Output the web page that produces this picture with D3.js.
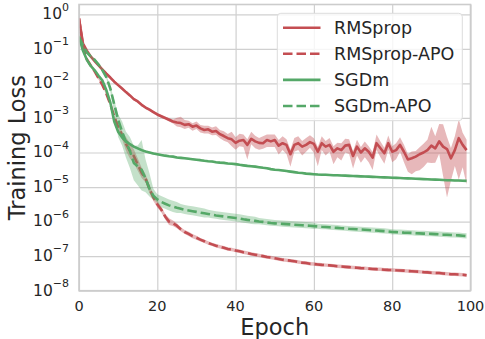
<!DOCTYPE html>
<html>
<head>
<meta charset="utf-8">
<script src="https://cdn.jsdelivr.net/npm/d3@7/dist/d3.min.js"></script>
<style>
  html, body { margin: 0; padding: 0; background: #ffffff; }
  svg { display: block; font-family: "DejaVu Sans", sans-serif; }
</style>
</head>
<body>
<svg id="chart" width="485" height="339"></svg>
<script>
// ---------------- data ----------------
const epochs = d3.range(0, 100);
const seriesNames = ["RMSprop", "RMSprop-APO", "SGDm", "SGDm-APO"];
const xTicks = [0, 20, 40, 60, 80, 100];
const yTickExponents = [0, -1, -2, -3, -4, -5, -6, -7, -8];

const rmsprop = [0.76, 0.145, 0.089, 0.060, 0.044, 0.033, 0.025, 0.019, 0.0148, 0.0112,
  0.0089, 0.0071, 0.0056, 0.0045, 0.0035, 0.0030, 0.0024, 0.0020, 0.00174, 0.00148,
  0.00126, 0.00112, 1.0e-3, 8.9e-4, 7.9e-4, 7.4e-4, 7.1e-4, 6.3e-4, 6.6e-4, 5.6e-4,
  6.0e-4, 5.0e-4, 4.5e-4, 4.7e-4, 4.0e-4, 4.2e-4, 3.4e-4, 3.0e-4, 2.6e-4, 2.4e-4,
  1.9e-4, 2.2e-4, 2.3e-4, 1.66e-4, 2.5e-4, 2.1e-4, 1.9e-4, 1.86e-4, 2.3e-4, 2.1e-4,
  2.3e-4, 1.58e-4, 1.86e-4, 1.66e-4, 8.9e-5, 1.66e-4, 1.86e-4, 1.48e-4, 1.66e-4, 2.0e-4,
  1.78e-4, 1.05e-4, 1.86e-4, 1.48e-4, 1.66e-4, 1.05e-4, 1.32e-4, 1.17e-4, 1.58e-4, 1.66e-4,
  7.9e-5, 1.48e-4, 1.0e-4, 1.32e-4, 1.05e-4, 7.1e-5, 1.86e-4, 1.32e-4, 9.5e-5, 1.86e-4,
  1.05e-4, 1.17e-4, 1.66e-4, 1.05e-4, 6.3e-5, 6.8e-5, 7.6e-5, 8.9e-5, 1.0e-4, 1.17e-4,
  1.58e-4, 1.32e-4, 2.1e-4, 1.48e-4, 1.26e-4, 6.8e-5, 1.17e-4, 2.6e-4, 1.66e-4, 1.17e-4];

const rmspropApo = [0.76, 0.126, 0.050, 0.033, 0.0224, 0.0141, 0.0089, 0.0050, 0.0025, 1.12e-3,
  5.6e-4, 3.2e-4, 1.78e-4, 1.12e-4, 7.9e-5, 4.5e-5, 2.6e-5, 1.78e-5, 8.9e-6, 5.0e-6,
  3.2e-6, 2.24e-6, 1.41e-6, 1.0e-6, 8.9e-7, 7.6e-7, 6.0e-7, 5.0e-7, 4.4e-7, 3.8e-7,
  3.4e-7, 3.0e-7, 2.7e-7, 2.4e-7, 2.19e-7, 2.0e-7, 1.86e-7, 1.74e-7, 1.62e-7, 1.55e-7,
  1.45e-7, 1.38e-7, 1.29e-7, 1.23e-7, 1.15e-7, 1.10e-7, 1.05e-7, 1.0e-7, 9.5e-8, 9.1e-8,
  8.7e-8, 8.3e-8, 7.9e-8, 7.6e-8, 7.4e-8, 7.1e-8, 6.8e-8, 6.5e-8, 6.3e-8, 6.0e-8,
  5.9e-8, 5.75e-8, 5.6e-8, 5.5e-8, 5.4e-8, 5.25e-8, 5.1e-8, 5.0e-8, 4.9e-8, 4.8e-8,
  4.7e-8, 4.6e-8, 4.5e-8, 4.45e-8, 4.35e-8, 4.25e-8, 4.2e-8, 4.15e-8, 4.05e-8, 4.0e-8,
  3.98e-8, 3.9e-8, 3.85e-8, 3.8e-8, 3.7e-8, 3.65e-8, 3.6e-8, 3.55e-8, 3.45e-8, 3.4e-8,
  3.3e-8, 3.27e-8, 3.24e-8, 3.16e-8, 3.1e-8, 3.0e-8, 2.98e-8, 2.95e-8, 2.9e-8, 2.8e-8];

const sgdm = [0.224, 0.089, 0.048, 0.032, 0.024, 0.0166, 0.012, 0.0063, 0.0028, 7.9e-4,
  4.0e-4, 2.75e-4, 2.1e-4, 1.74e-4, 1.48e-4, 1.32e-4, 1.17e-4, 1.07e-4, 1.0e-4, 9.3e-5,
  8.9e-5, 8.5e-5, 8.1e-5, 7.8e-5, 7.6e-5, 7.2e-5, 7.0e-5, 6.8e-5, 6.6e-5, 6.4e-5,
  6.2e-5, 6.0e-5, 5.75e-5, 5.6e-5, 5.5e-5, 5.25e-5, 5.1e-5, 5.0e-5, 4.8e-5, 4.7e-5,
  4.6e-5, 4.4e-5, 4.25e-5, 4.1e-5, 4.0e-5, 3.9e-5, 3.75e-5, 3.6e-5, 3.5e-5, 3.3e-5,
  3.16e-5, 3.1e-5, 3.0e-5, 2.9e-5, 2.8e-5, 2.7e-5, 2.6e-5, 2.55e-5, 2.45e-5, 2.4e-5,
  2.35e-5, 2.3e-5, 2.28e-5, 2.26e-5, 2.24e-5, 2.2e-5, 2.19e-5, 2.16e-5, 2.14e-5, 2.11e-5,
  2.09e-5, 2.07e-5, 2.04e-5, 2.02e-5, 2.0e-5, 1.97e-5, 1.95e-5, 1.93e-5, 1.91e-5, 1.88e-5,
  1.86e-5, 1.84e-5, 1.82e-5, 1.80e-5, 1.78e-5, 1.76e-5, 1.74e-5, 1.72e-5, 1.70e-5, 1.68e-5,
  1.66e-5, 1.64e-5, 1.62e-5, 1.60e-5, 1.58e-5, 1.57e-5, 1.55e-5, 1.54e-5, 1.52e-5, 1.51e-5];

const sgdmApo = [0.224, 0.126, 0.079, 0.060, 0.048, 0.035, 0.024, 0.015, 0.0071, 0.0025,
  8.9e-4, 4.0e-4, 2.0e-4, 1.12e-4, 5.0e-5, 4.0e-5, 3.16e-5, 1.78e-5, 8.9e-6, 5.6e-6,
  4.4e-6, 3.7e-6, 3.3e-6, 2.95e-6, 2.7e-6, 2.5e-6, 2.34e-6, 2.19e-6, 2.09e-6, 2.0e-6,
  1.91e-6, 1.82e-6, 1.74e-6, 1.66e-6, 1.58e-6, 1.51e-6, 1.46e-6, 1.41e-6, 1.36e-6, 1.32e-6,
  1.27e-6, 1.23e-6, 1.17e-6, 1.12e-6, 1.08e-6, 1.05e-6, 1.01e-6, 9.8e-7, 9.4e-7, 9.1e-7,
  8.9e-7, 8.75e-7, 8.6e-7, 8.45e-7, 8.3e-7, 8.1e-7, 8.0e-7, 7.85e-7, 7.7e-7, 7.55e-7,
  7.4e-7, 7.25e-7, 7.1e-7, 7.0e-7, 6.85e-7, 6.7e-7, 6.6e-7, 6.45e-7, 6.35e-7, 6.2e-7,
  6.1e-7, 6.0e-7, 5.9e-7, 5.8e-7, 5.7e-7, 5.6e-7, 5.5e-7, 5.4e-7, 5.3e-7, 5.2e-7,
  5.0e-7, 4.95e-7, 4.9e-7, 4.8e-7, 4.75e-7, 4.7e-7, 4.6e-7, 4.55e-7, 4.5e-7, 4.45e-7,
  4.4e-7, 4.35e-7, 4.3e-7, 4.2e-7, 4.15e-7, 4.1e-7, 4.05e-7, 4.0e-7, 3.9e-7, 3.8e-7];

// shaded band extents, in decades above / below each mean
const rmspropUp = [0.04, 0.04, 0.04, 0.04, 0.04, 0.04, 0.04, 0.04, 0.04, 0.04,
  0.04, 0.04, 0.04, 0.04, 0.04, 0.04, 0.04, 0.04, 0.04, 0.04,
  0.04, 0.04, 0.04, 0.05, 0.06, 0.14, 0.18, 0.14, 0.1, 0.1,
  0.12, 0.1, 0.12, 0.1, 0.12, 0.14, 0.12, 0.14, 0.12, 0.22,
  0.16, 0.2, 0.16, 0.16, 0.2, 0.16, 0.14, 0.2, 0.16, 0.2,
  0.16, 0.16, 0.2, 0.16, 0.14, 0.2, 0.2, 0.16, 0.2, 0.2,
  0.16, 0.14, 0.2, 0.16, 0.2, 0.16, 0.16, 0.2, 0.2, 0.16,
  0.14, 0.2, 0.16, 0.2, 0.16, 0.16, 0.25, 0.2, 0.16, 0.22,
  0.16, 0.2, 0.22, 0.2, 0.16, 0.2, 0.16, 0.2, 0.25, 0.3,
  0.55, 0.35, 0.5, 0.65, 0.35, 0.3, 0.4, 0.55, 0.35, 0.3];
const rmspropDown = [0.04, 0.04, 0.04, 0.04, 0.04, 0.04, 0.04, 0.04, 0.04, 0.04,
  0.04, 0.04, 0.04, 0.04, 0.04, 0.04, 0.04, 0.04, 0.04, 0.04,
  0.04, 0.04, 0.04, 0.05, 0.06, 0.12, 0.12, 0.12, 0.1, 0.12,
  0.1, 0.12, 0.1, 0.12, 0.1, 0.12, 0.12, 0.14, 0.12, 0.2,
  0.2, 0.16, 0.2, 0.42, 0.16, 0.2, 0.2, 0.16, 0.2, 0.16,
  0.2, 0.26, 0.2, 0.26, 0.36, 0.2, 0.2, 0.26, 0.2, 0.16,
  0.26, 0.42, 0.2, 0.26, 0.2, 0.36, 0.26, 0.3, 0.2, 0.26,
  0.36, 0.26, 0.3, 0.26, 0.3, 0.36, 0.2, 0.26, 0.3, 0.2,
  0.3, 0.26, 0.2, 0.3, 0.36, 0.46, 0.42, 0.46, 0.42, 0.36,
  0.5, 0.42, 0.36, 0.85, 1.4, 0.65, 0.46, 1.2, 0.65, 1.0];
const rmspropApoSpread = [0.04, 0.04, 0.04, 0.04, 0.04, 0.04, 0.04, 0.04, 0.04, 0.04,
  0.04, 0.12, 0.2, 0.22, 0.2, 0.18, 0.15, 0.12, 0.12, 0.1,
  0.1, 0.08, 0.08, 0.1, 0.08, 0.07, 0.06, 0.06, 0.06, 0.06,
  0.06, 0.05, 0.05, 0.05, 0.05, 0.05, 0.05, 0.05, 0.05, 0.05,
  0.05, 0.05, 0.05, 0.05, 0.05, 0.05, 0.05, 0.05, 0.05, 0.05,
  0.05, 0.05, 0.05, 0.05, 0.05, 0.05, 0.05, 0.05, 0.05, 0.05,
  0.05, 0.05, 0.05, 0.05, 0.05, 0.05, 0.05, 0.05, 0.05, 0.05,
  0.05, 0.05, 0.05, 0.05, 0.05, 0.05, 0.05, 0.05, 0.05, 0.05,
  0.05, 0.05, 0.05, 0.05, 0.05, 0.05, 0.05, 0.05, 0.05, 0.05,
  0.05, 0.05, 0.05, 0.05, 0.05, 0.05, 0.05, 0.05, 0.05, 0.05];
const sgdmSpread = [0.03, 0.03, 0.03, 0.03, 0.03, 0.03, 0.03, 0.06, 0.06, 0.06,
  0.06, 0.06, 0.06, 0.03, 0.03, 0.03, 0.03, 0.03, 0.03, 0.03,
  0.03, 0.03, 0.03, 0.03, 0.03, 0.03, 0.03, 0.03, 0.03, 0.03,
  0.03, 0.03, 0.03, 0.03, 0.03, 0.03, 0.03, 0.03, 0.03, 0.03,
  0.03, 0.03, 0.03, 0.03, 0.03, 0.03, 0.03, 0.03, 0.03, 0.03,
  0.03, 0.03, 0.03, 0.03, 0.03, 0.03, 0.03, 0.03, 0.03, 0.03,
  0.03, 0.03, 0.03, 0.03, 0.03, 0.03, 0.03, 0.03, 0.03, 0.03,
  0.03, 0.03, 0.03, 0.03, 0.03, 0.03, 0.03, 0.03, 0.03, 0.03,
  0.03, 0.03, 0.03, 0.03, 0.03, 0.03, 0.03, 0.03, 0.03, 0.03,
  0.03, 0.03, 0.03, 0.03, 0.03, 0.03, 0.03, 0.03, 0.03, 0.03];
const sgdmApoUp = [0.05, 0.05, 0.05, 0.05, 0.05, 0.05, 0.05, 0.05, 0.08, 0.12,
  0.15, 0.3, 0.3, 0.4, 0.5, 0.6, 0.86, 0.55, 0.45, 0.2,
  0.15, 0.17, 0.17, 0.17, 0.17, 0.17, 0.14, 0.14, 0.14, 0.14,
  0.14, 0.14, 0.14, 0.12, 0.12, 0.12, 0.12, 0.12, 0.12, 0.12,
  0.12, 0.12, 0.12, 0.12, 0.12, 0.12, 0.1, 0.1, 0.1, 0.1,
  0.1, 0.1, 0.1, 0.1, 0.1, 0.1, 0.1, 0.1, 0.1, 0.1,
  0.1, 0.08, 0.08, 0.08, 0.08, 0.08, 0.08, 0.08, 0.08, 0.08,
  0.08, 0.08, 0.08, 0.08, 0.08, 0.08, 0.08, 0.08, 0.08, 0.08,
  0.08, 0.08, 0.08, 0.08, 0.08, 0.08, 0.08, 0.08, 0.08, 0.08,
  0.08, 0.08, 0.08, 0.08, 0.08, 0.08, 0.08, 0.08, 0.08, 0.08];
const sgdmApoDown = [0.05, 0.05, 0.05, 0.05, 0.05, 0.05, 0.05, 0.05, 0.1, 0.25,
  0.5, 0.4, 0.45, 0.5, 0.5, 0.55, 0.6, 0.4, 0.22, 0.12,
  0.1, 0.15, 0.15, 0.15, 0.15, 0.15, 0.12, 0.12, 0.12, 0.12,
  0.12, 0.12, 0.12, 0.1, 0.1, 0.1, 0.1, 0.1, 0.1, 0.1,
  0.1, 0.1, 0.1, 0.1, 0.1, 0.1, 0.08, 0.08, 0.08, 0.08,
  0.08, 0.08, 0.08, 0.08, 0.08, 0.08, 0.08, 0.08, 0.08, 0.08,
  0.08, 0.07, 0.07, 0.07, 0.07, 0.07, 0.07, 0.07, 0.07, 0.07,
  0.07, 0.07, 0.07, 0.07, 0.07, 0.07, 0.07, 0.07, 0.07, 0.07,
  0.07, 0.07, 0.07, 0.07, 0.07, 0.07, 0.07, 0.07, 0.07, 0.07,
  0.07, 0.07, 0.07, 0.07, 0.07, 0.07, 0.07, 0.07, 0.07, 0.07];

const colors = { red: "#c44e52", green: "#55a868" };

// ---------------- chart ----------------
const svg = d3.select("#chart");
const plot = { left: 79, right: 470.5, top: 4.5, bottom: 290.7 };

const x = d3.scaleLinear().domain([0, 100]).range([plot.left, plot.right]);
const y = d3.scaleLog().domain([1e-8, Math.pow(10, 0.2836)]).range([plot.bottom, plot.top]);

svg.append("rect").attr("width", 485).attr("height", 339).attr("fill", "#ffffff");

const gridColor = "#d0d0d0";
svg.append("g")
  .attr("transform", `translate(0,${plot.bottom})`)
  .call(d3.axisBottom(x).tickValues(xTicks).tickSize(-(plot.bottom - plot.top)).tickFormat(""))
  .call(g => g.select(".domain").remove())
  .call(g => g.selectAll("line").attr("stroke", gridColor).attr("stroke-width", 1.2));

svg.append("g")
  .attr("transform", `translate(${plot.left},0)`)
  .call(d3.axisLeft(y).tickValues(yTickExponents.map(e => Math.pow(10, e))).tickSize(-(plot.right - plot.left)).tickFormat(""))
  .call(g => g.select(".domain").remove())
  .call(g => g.selectAll("line").attr("stroke", gridColor).attr("stroke-width", 1.2));

// tick labels
const textColor = "#262626";
svg.append("g").selectAll("text").data(xTicks).join("text")
  .attr("x", d => x(d)).attr("y", 311)
  .attr("text-anchor", "middle")
  .attr("font-size", 14.5).attr("fill", textColor)
  .text(d => d);

const yl = svg.append("g").selectAll("text").data(yTickExponents).join("text")
  .attr("x", 69).attr("y", d => y(Math.pow(10, d)) + 4.8)
  .attr("text-anchor", "end")
  .attr("font-size", 15.5).attr("fill", textColor);
yl.append("tspan").text("10");
yl.append("tspan").attr("font-size", 11).attr("dy", -8.5)
  .text(d => d < 0 ? "\u2212" + Math.abs(d) : String(d));

// axis titles
svg.append("text").attr("x", (plot.left + plot.right) / 2).attr("y", 335)
  .attr("text-anchor", "middle").attr("font-size", 22.5).attr("fill", textColor).text("Epoch");
svg.append("text").attr("transform", `translate(24.5,${(plot.top + plot.bottom) / 2}) rotate(-90)`)
  .attr("text-anchor", "middle").attr("font-size", 22.5).attr("fill", textColor).text("Training Loss");

// clip for data
svg.append("clipPath").attr("id", "clip").append("rect")
  .attr("x", plot.left).attr("y", plot.top)
  .attr("width", plot.right - plot.left).attr("height", plot.bottom - plot.top);
const dataG = svg.append("g").attr("clip-path", "url(#clip)");

const series = [
  { name: seriesNames[0], mean: rmsprop, up: rmspropUp, down: rmspropDown, color: colors.red, dashed: false, alpha: 0.4 },
  { name: seriesNames[1], mean: rmspropApo, up: rmspropApoSpread, down: rmspropApoSpread, color: colors.red, dashed: true, alpha: 0.4 },
  { name: seriesNames[2], mean: sgdm, up: sgdmSpread, down: sgdmSpread, color: colors.green, dashed: false, alpha: 0.35 },
  { name: seriesNames[3], mean: sgdmApo, up: sgdmApoUp, down: sgdmApoDown, color: colors.green, dashed: true, alpha: 0.35 }
];

const line = d3.line().x(d => x(d.e)).y(d => y(d.v));
const area = d3.area().x(d => x(d.e)).y0(d => y(d.lo)).y1(d => y(d.hi));

series.forEach(s => {
  const pts = epochs.map((e, i) => ({
    e, v: s.mean[i],
    lo: s.mean[i] / Math.pow(10, s.down[i]),
    hi: s.mean[i] * Math.pow(10, s.up[i])
  }));
  dataG.append("path").datum(pts)
    .attr("d", line)
    .attr("fill", "none")
    .attr("stroke", s.color)
    .attr("stroke-width", 2.6)
    .attr("stroke-linejoin", "round")
    .attr("stroke-dasharray", s.dashed ? "9.5,4" : null);
  dataG.append("path").datum(pts)
    .attr("d", area)
    .attr("fill", s.color)
    .attr("fill-opacity", s.alpha)
    .attr("stroke", "none");
});

// frame (spines)
svg.append("rect")
  .attr("x", plot.left).attr("y", plot.top)
  .attr("width", plot.right - plot.left).attr("height", plot.bottom - plot.top)
  .attr("fill", "none").attr("stroke", "#cccccc").attr("stroke-width", 1.6);

// legend
const lg = svg.append("g");
lg.append("rect").attr("x", 277.3).attr("y", 13.3).attr("width", 185).attr("height", 107.4)
  .attr("rx", 3.5).attr("fill", "#ffffff").attr("fill-opacity", 0.8)
  .attr("stroke", "#dcdcdc").attr("stroke-width", 1);
const rows = lg.selectAll("g.row").data(series).join("g").attr("class", "row")
  .attr("transform", (d, i) => `translate(0,${27.7 + i * 26.1})`);
rows.append("line").attr("x1", 283).attr("x2", 320.5).attr("y1", 0).attr("y2", 0)
  .attr("stroke", d => d.color).attr("stroke-width", 2.6)
  .attr("stroke-dasharray", d => d.dashed ? "9.5,4" : null);
rows.append("text").attr("x", 334).attr("y", 6.2)
  .attr("font-size", 17.5).attr("fill", textColor).text(d => d.name);
</script>
</body>
</html>
